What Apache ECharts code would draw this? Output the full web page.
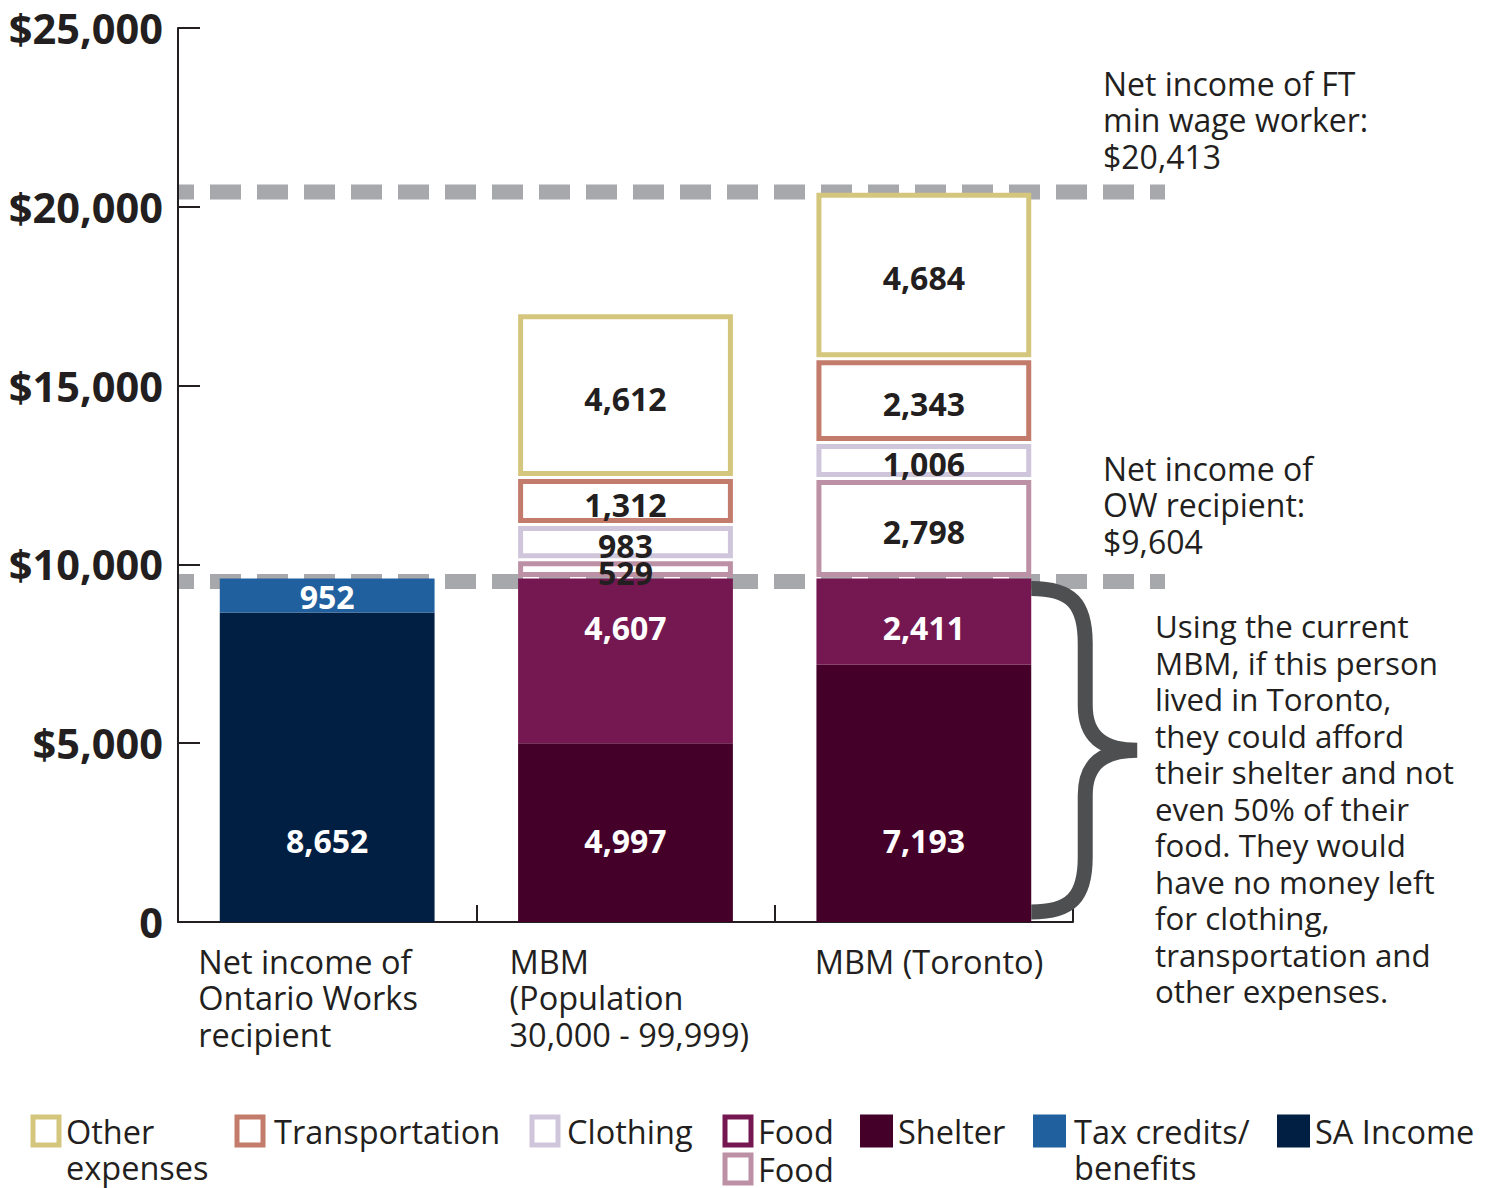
<!DOCTYPE html>
<html><head><meta charset="utf-8">
<script src="https://cdn.jsdelivr.net/npm/echarts@6/dist/echarts.min.js"></script>
<style>html,body{margin:0;padding:0;background:#fff;} #c{width:1486px;height:1188px;}</style>
</head><body><div id="c"></div>
<script>
// ---------- data ----------
const categories = ['Net income of\nOntario Works\nrecipient', 'MBM\n(Population\n30,000 - 99,999)', 'MBM (Toronto)'];
const saIncome = [8652, null, null];
const taxCredits = [952, null, null];
const shelter = [null, 4997, 7193];
const food = [null, 4607, 2411];
const foodOutlined = [null, 529, 2798];
const clothing = [null, 983, 1006];
const transportation = [null, 1312, 2343];
const otherExpenses = [null, 4612, 4684];
const minWageIncome = 20413;
const owIncome = 9604;
const yAxisMax = 25000;
const yAxisStep = 5000;
const minWageNote = 'Net income of FT\nmin wage worker:\n$20,413';
const owNote = 'Net income of\nOW recipient:\n$9,604';
const braceNote = 'Using the current\nMBM, if this person\nlived in Toronto,\nthey could afford\ntheir shelter and not\neven 50% of their\nfood. They would\nhave no money left\nfor clothing,\ntransportation and\nother expenses.';

// ---------- styling ----------
const FONT = '"Open Sans", "Noto Sans", sans-serif';
const TXT = '#231f20';
const layers = [
  {name: 'SA Income', values: saIncome, fill: '#001f42'},
  {name: 'Tax credits/ benefits', values: taxCredits, fill: '#21609e'},
  {name: 'Shelter', values: shelter, fill: '#45002a'},
  {name: 'Food', values: food, fill: '#751852'},
  {name: 'Food (outlined)', values: foodOutlined, stroke: '#bc91a5', outline: true},
  {name: 'Clothing', values: clothing, stroke: '#cfc6dc', outline: true},
  {name: 'Transportation', values: transportation, stroke: '#c37b6b', outline: true},
  {name: 'Other expenses', values: otherExpenses, stroke: '#d5c67d', outline: true}
];

const base = categories.map(() => 0);
function makeRender(layer) {
  return function (params, api) {
    const ci = api.value(0), s = api.value(1), e = api.value(2), v = api.value(3);
    const cx = api.coord([ci, 0])[0];
    const yb = api.coord([ci, s])[1];
    const yt = api.coord([ci, e])[1];
    const w = api.size([1, 0])[0] * 0.72;
    const children = [];
    let ly, lc;
    if (layer.outline) {
      const lw = 5, g = 1.5;
      children.push({type: 'rect', z2: 1,
        shape: {x: cx - w / 2 + lw / 2, y: yt + lw / 2 + g, width: w - lw, height: Math.max(0, yb - yt - lw - 2 * g)},
        style: {fill: '#fff', stroke: layer.stroke, lineWidth: lw}});
      ly = (yt + yb) / 2 + 3; lc = TXT;
    } else {
      children.push({type: 'rect', z2: 1, shape: {x: cx - w / 2, y: yt, width: w, height: yb - yt}, style: {fill: layer.fill}});
      ly = s === 0 ? yb - 82 : ((yb - yt) < 60 ? (yt + yb) / 2 + 1 : yt + 49);
      lc = '#fff';
    }
    children.push({type: 'text', z2: 100, x: cx, y: ly,
      style: {text: v.toLocaleString('en-US'), fill: lc, fontSize: 32, fontWeight: 'bold', fontFamily: FONT, align: 'center', verticalAlign: 'middle'}});
    return {type: 'group', children: children};
  };
}

const series = layers.map(layer => {
  const data = [];
  layer.values.forEach((v, i) => {
    if (v == null) return;
    data.push([i, base[i], base[i] + v, v]);
    base[i] += v;
  });
  return {
    type: 'custom', name: layer.name, data: data,
    encode: {x: 0, y: [1, 2]},
    itemStyle: layer.outline ? {color: '#fff', borderColor: layer.stroke, borderWidth: 5} : {color: layer.fill},
    renderItem: makeRender(layer)
  };
});

// curly brace next to the Toronto bar, spanning 0 .. OW income
series.push({
  type: 'custom', name: 'brace', silent: true, clip: false, z: 5,
  data: [[2, 0, owIncome]], encode: {x: 0, y: [1, 2]},
  renderItem: function (params, api) {
    const c = api.coord([api.value(0), 0])[0];
    const bx = c + api.size([1, 0])[0] * 0.36;
    const yt = api.coord([api.value(0), api.value(2)])[1] + 10;
    const yb = api.coord([api.value(0), api.value(1)])[1] - 10;
    const ym = (yt + yb) / 2, cx = bx + 54, tx = bx + 106;
    const d = `M${bx},${yt} C${bx + 40},${yt} ${cx},${yt + 15} ${cx},${yt + 55} L${cx},${ym - 45} ` +
      `C${cx},${ym - 12} ${cx + 20},${ym} ${tx},${ym} C${cx + 20},${ym} ${cx},${ym + 12} ${cx},${ym + 45} ` +
      `L${cx},${yb - 55} C${cx},${yb - 15} ${bx + 40},${yb} ${bx},${yb}`;
    return {type: 'path', shape: {pathData: d},
      style: {fill: 'none', stroke: '#4d4f51', lineWidth: 15, lineJoin: 'bevel', lineCap: 'butt'}};
  }
});

function lg(name, text, left, top, style, padLeft) {
  const outline = !!style.borderColor;
  return {
    left: outline ? left + 2.5 : left, top: top, padding: 0, itemGap: 0, orient: 'horizontal',
    selectedMode: false, icon: 'rect',
    itemWidth: outline ? 26 : 33, itemHeight: outline ? 28 : 33,
    formatter: () => text,
    textStyle: {fontSize: 32.5, color: TXT, fontFamily: FONT, lineHeight: 36,
      padding: [0, 0, 0, padLeft]},
    data: [{name: name, icon: 'rect', itemStyle: style}]
  };
}
const ol = c => ({color: '#fff', borderColor: c, borderWidth: 5});
const legends = [
  lg('Other expenses', '\nOther\nexpenses', 28, 1077, ol('#d5c67d'), 2),
  lg('Transportation', 'Transportation', 232, 1113, ol('#c37b6b'), 6),
  lg('Clothing', 'Clothing', 527, 1113, ol('#cfc6dc'), 4),
  lg('Food', 'Food', 720, 1113, ol('#751852'), 2),
  lg('Food (outlined)', 'Food', 720, 1151, ol('#bc91a5'), 2),
  lg('Shelter', 'Shelter', 860, 1113, {color: '#45002a', borderWidth: 0}, 0),
  lg('Tax credits/ benefits', '\nTax credits/\nbenefits', 1033, 1077, {color: '#21609e', borderWidth: 0}, 3),
  lg('SA Income', 'SA Income', 1277, 1113, {color: '#001f42', borderWidth: 0}, 0)
];

const labelWidths = [258, 232, 218];
const rich = {};
labelWidths.forEach((w, i) => {
  rich['c' + i] = {width: w, align: 'left', fontSize: 32.5, fontFamily: FONT, color: TXT, lineHeight: 36.5};
});

const chart = echarts.init(document.getElementById('c'), null, {renderer: 'svg'});
chart.setOption({
  animation: false,
  backgroundColor: '#fff',
  grid: {left: 178, right: 413, top: 28, bottom: 266, containLabel: false},
  legend: legends,
  xAxis: {
    type: 'category', data: categories,
    axisLine: {show: true, lineStyle: {color: TXT, width: 2}},
    axisTick: {show: true, inside: true, length: 17, lineStyle: {color: TXT, width: 2}},
    axisLabel: {
      margin: 21, interval: 0,
      formatter: (val, idx) => val.split('\n').map(l => '{c' + idx + '|' + l + '}').join('\n'),
      rich: rich
    }
  },
  yAxis: {
    type: 'value', min: 0, max: yAxisMax, interval: yAxisStep,
    axisLine: {show: true, lineStyle: {color: TXT, width: 2}},
    axisTick: {show: true, inside: true, length: 22, lineStyle: {color: TXT, width: 2}},
    splitLine: {show: false},
    axisLabel: {margin: 15, color: TXT, fontSize: 41.5, fontWeight: 'bold', fontFamily: FONT,
      formatter: v => v === 0 ? '0' : '$' + v.toLocaleString('en-US')}
  },
  series: series
});

// ---------- reference lines and notes (positioned via the value axis) ----------
const yMW = chart.convertToPixel({yAxisIndex: 0}, minWageIncome);
const yOW = chart.convertToPixel({yAxisIndex: 0}, owIncome);

const dash = y => ({type: 'line', z: 0, shape: {x1: 178, y1: y, x2: 1165, y2: y},
  style: {stroke: '#a7a8ab', lineWidth: 15, lineDash: [31, 16], lineDashOffset: 15}});
const note = (text, x, y, fs) => ({type: 'text', z: 10, x: x, y: y,
  style: {text: text, fill: TXT, fontSize: fs, fontFamily: FONT, lineHeight: 36.5, align: 'left', verticalAlign: 'top'}});

chart.setOption({
  graphic: [
    dash(yMW), dash(yOW + 3),
    note(minWageNote, 1103, 65, 32),
    note(owNote, 1103, 450, 32),
    note(braceNote, 1155, 608, 31.3)
  ]
});
</script></body></html>
